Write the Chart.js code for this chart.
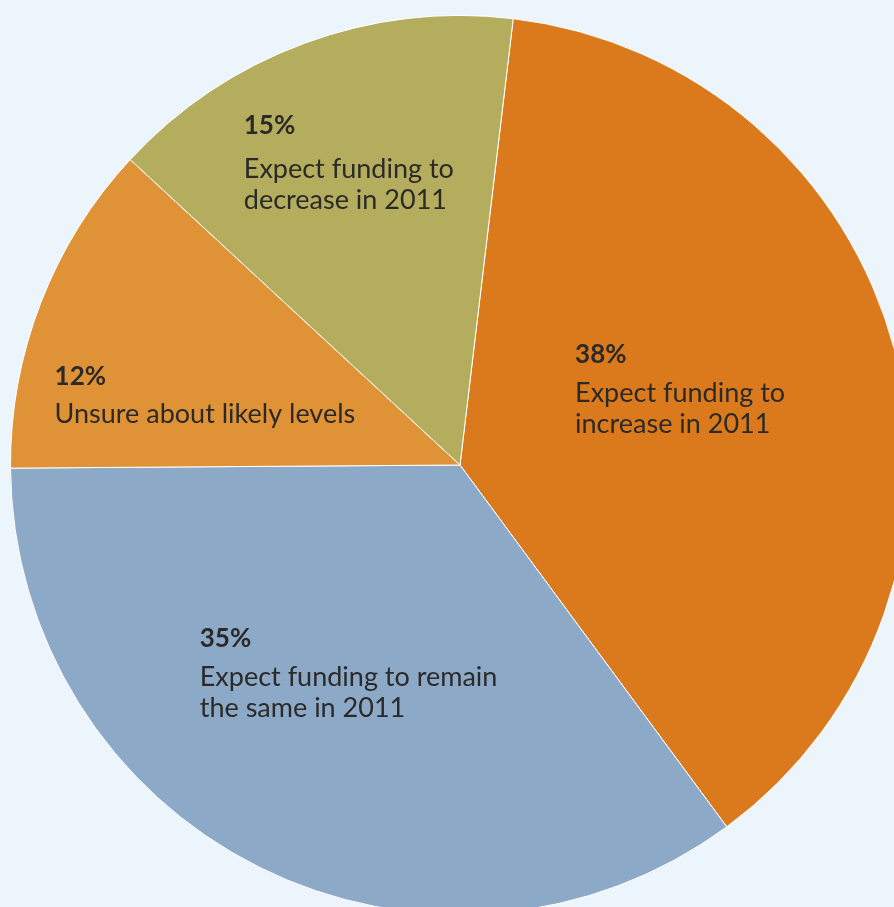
<!DOCTYPE html>
<html>
<head>
<meta charset="utf-8">
<script src="https://cdn.jsdelivr.net/npm/chart.js@4"></script>
<style>
  html, body { margin: 0; padding: 0; background: #ecf5fb; overflow: hidden; }
  #wrap { width: 894px; height: 907px; overflow: hidden; position: relative; }
  #pie { position: absolute; left: 0; top: 0; }
</style>
</head>
<body>
<div id="wrap"><canvas id="pie" width="920" height="930"></canvas></div>
<script>
var shares = [38, 35, 12, 15];
var captions = [
    ['Expect funding to', 'increase in 2011'],
    ['Expect funding to remain', 'the same in 2011'],
    ['Unsure about likely levels'],
    ['Expect funding to', 'decrease in 2011']
];
var sliceColors = ['#da7a1d', '#8ca9c8', '#e09336', '#b3ad5d'];

// caption block anchors, relative to the pie centre (fraction of radius),
// gap = distance from the percentage baseline to the first caption line
var labelAnchors = [
    {dx: 0.256, dy: -0.227, gap: 39},
    {dx: -0.579, dy: 0.405, gap: 39},
    {dx: -0.902, dy: -0.178, gap: 38},
    {dx: -0.481, dy: -0.737, gap: 44}
];

var sliceLabels = {
    id: 'sliceLabels',
    afterDatasetsDraw: function(chart) {
        var ctx = chart.ctx;
        var arcs = chart.getDatasetMeta(0).data;
        ctx.save();
        ctx.fillStyle = '#2b2a28';
        ctx.textAlign = 'left';
        ctx.textBaseline = 'alphabetic';
        arcs.forEach(function(arc, i) {
            var a = labelAnchors[i];
            var r = arc.outerRadius;
            var x = arc.x + a.dx * r;
            var y = arc.y + a.dy * r;
            ctx.font = 'bold 26px Lato';
            ctx.fillText(shares[i] + '%', x, y);
            ctx.font = '27px Lato';
            captions[i].forEach(function(line, j) {
                ctx.fillText(line, x, y + a.gap + j * 31);
            });
        });
        ctx.restore();
    }
};

new Chart(document.getElementById('pie').getContext('2d'), {
    type: 'pie',
    data: {
        labels: ['Increase', 'Same', 'Unsure', 'Decrease'],
        datasets: [{
            data: shares,
            backgroundColor: sliceColors,
            borderColor: '#ffffff',
            borderWidth: 1
        }]
    },
    options: {
        responsive: false,
        animation: false,
        rotation: 6.8,
        layout: { padding: 10 },
        plugins: {
            legend: { display: false },
            tooltip: { enabled: false }
        }
    },
    plugins: [sliceLabels]
});
</script>
</body>
</html>
